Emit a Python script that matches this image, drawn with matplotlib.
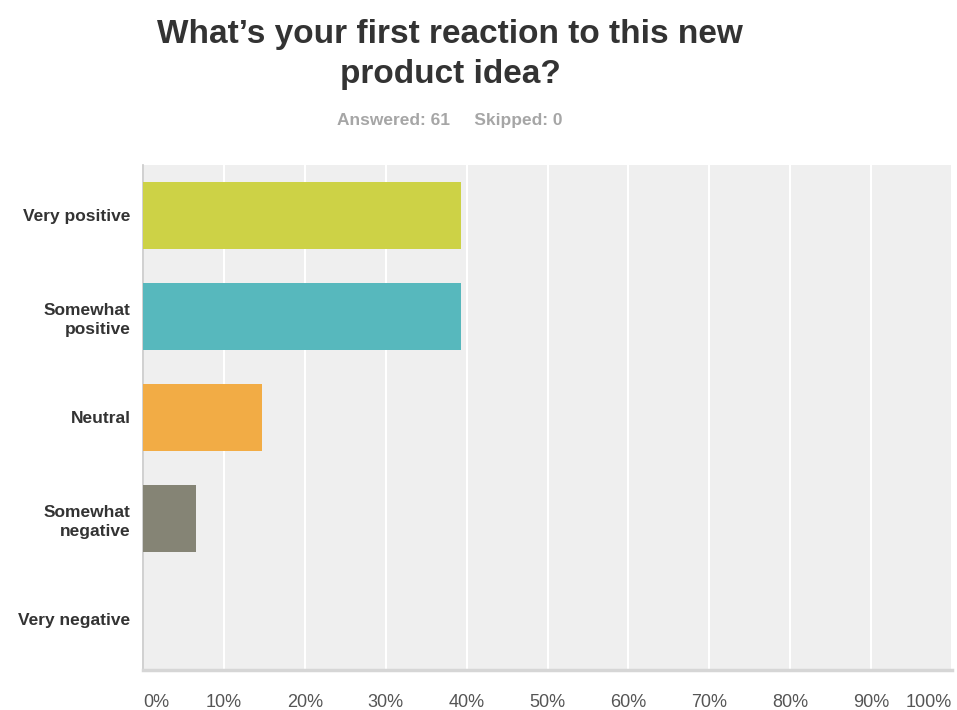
import matplotlib.pyplot as plt
from matplotlib.ticker import FixedLocator

# survey answers, share of respondents in percent (n = 61)
answers = ['Very positive', 'Somewhat\npositive', 'Neutral',
           'Somewhat\nnegative', 'Very negative']
shares = [39.34, 39.34, 14.75, 6.56, 0.0]
bar_colors = ['#cdd246', '#57b8bd', '#f2ac45', '#858475', '#9e9e9e']
tick_values = [0, 10, 20, 30, 40, 50, 60, 70, 80, 90, 100]
tick_labels = ['0%', '10%', '20%', '30%', '40%', '50%', '60%', '70%',
               '80%', '90%', '100%']

TITLE = 'What\u2019s your first reaction to this new\nproduct idea?'
SUBTITLE = 'Answered: 61     Skipped: 0'


def plotting():
    """
    horizontal bar chart on a light grey panel with white grid
    """
    plt.rcParams['font.family'] = ['Liberation Sans', 'DejaVu Sans']
    fig = plt.figure(figsize=(9.57, 7.10), dpi=100)
    ax = fig.add_axes([143 / 957, 1 - 670 / 710, 809 / 957, 505 / 710])
    ax.set_facecolor('#efefef')

    pos = list(range(len(answers)))
    ax.barh(pos, shares, height=0.66, color=bar_colors,
            linewidth=0, zorder=3)
    ax.set_xlim(0, 100)
    ax.set_ylim(len(answers) - 0.5, -0.5)

    ax.xaxis.set_major_locator(FixedLocator(tick_values))
    ax.set_xticklabels(tick_labels)
    ax.grid(axis='x', color='white', linewidth=1.5, zorder=1)
    ax.tick_params(axis='x', length=0, pad=17, labelsize=13,
                   labelcolor='#555555')
    labels = ax.get_xticklabels()
    labels[0].set_horizontalalignment('left')
    labels[-1].set_horizontalalignment('right')

    ax.set_yticks(pos)
    ax.set_yticklabels(answers, fontweight='bold', fontsize=12.5,
                       color='#333333', linespacing=1.3)
    ax.tick_params(axis='y', length=0, pad=9)

    for side in ('top', 'right'):
        ax.spines[side].set_visible(False)
    ax.spines['left'].set_color('#c8c8c8')
    ax.spines['left'].set_linewidth(1.2)
    ax.spines['bottom'].set_color('#d6d6d6')
    ax.spines['bottom'].set_linewidth(2.5)

    fig.text(450 / 957, 1 - 19 / 710, TITLE, ha='center', va='top',
             fontsize=24, fontweight='bold', color='#333333',
             linespacing=1.38)
    fig.text(450 / 957, 1 - 120 / 710, SUBTITLE, ha='center',
             va='center', fontsize=12.5, fontweight='bold',
             color='#a6a6a6')

    fig.savefig('out.png', dpi=100)


if __name__ == '__main__':
    plotting()
